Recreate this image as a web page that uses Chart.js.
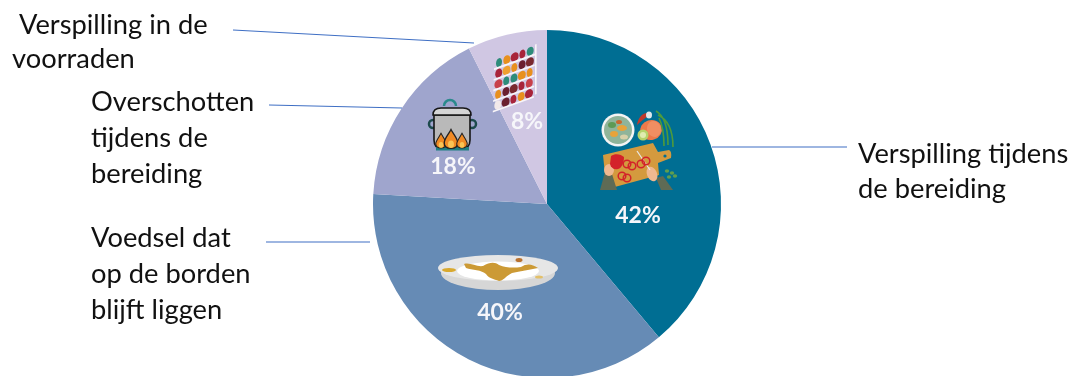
<!DOCTYPE html>
<html lang="nl">
<head>
<meta charset="utf-8">
<title>Voedselverspilling</title>
<script src="https://cdn.jsdelivr.net/npm/chart.js@4/dist/chart.umd.min.js"></script>
<style>
  html, body { margin: 0; padding: 0; background: #fff; overflow: hidden; }
  #wrap { position: relative; width: 1072px; height: 376px; overflow: hidden; }
  #box { position: absolute; left: 0; top: 0; width: 1072px; height: 378px; }
</style>
</head>
<body>
<div id="wrap"><div id="box"><canvas id="pie"></canvas></div></div>
<script>
const categories = [
    'Verspilling tijdens de bereiding',
    'Voedsel dat op de borden blijft liggen',
    'Overschotten tijdens de bereiding',
    'Verspilling in de voorraden'
];
const shares = [42, 40, 18, 8];
const sliceColors = ['#006e93', '#668bb5', '#9fa5cd', '#d0c7e3'];

// wrapped callouts: text lines, left edge of each line, first baseline
const calloutLines = [
    ['Verspilling tijdens', 'de bereiding'],
    ['Voedsel dat', 'op de borden', 'blijft liggen'],
    ['Overschotten', 'tijdens de', 'bereiding'],
    [' Verspilling in de', 'voorraden']
];
const calloutX = [858, 91, 91, 12];
const calloutY = [163, 247, 111, 34];
const calloutStep = [35, 36, 36, 34];
const leaders = [
    [712, 147, 847, 147],
    [266, 242, 370, 242],
    [269, 105, 402, 108],
    [233, 30, 474, 43]
];
// percent labels, offset from the pie centre
const percentDx = [91, -47, -94, -20];
const percentDy = [12, 109, -37, -82];

function fillPath(ctx, color, d) {
    ctx.fillStyle = color;
    ctx.fill(new Path2D(d));
}

function ellipse(ctx, color, x, y, rx, ry, rot) {
    ctx.fillStyle = color;
    ctx.beginPath();
    ctx.ellipse(x, y, rx, ry, rot || 0, 0, Math.PI * 2);
    ctx.fill();
}

function drawPlate(ctx) {
    ellipse(ctx, '#d6d6d6', 498, 273, 57, 17);
    ellipse(ctx, '#e6e6e6', 498, 268, 60, 13);
    ellipse(ctx, '#ffffff', 498, 271, 41, 9.5);
    fillPath(ctx, '#cc9a35', 'M464 264 C470 262 476 267 483 266 C490 262 495 262 499 265 C506 268 514 268 521 267 C527 263 532 264 538 268 C530 270 520 271 512 273 C506 276 503 281 499 281 C494 279 488 278 486 274 C482 270 472 270 466 268 Z');
    ellipse(ctx, '#b9722f', 519, 260, 3.5, 2);
    ellipse(ctx, '#d9a92f', 449, 270, 7, 2);
    ellipse(ctx, '#e3c06a', 539, 277, 4, 1.6);
}

function drawPot(ctx) {
    // handles and knob
    ctx.lineWidth = 2.5;
    ctx.strokeStyle = '#2a8a8c';
    ctx.beginPath(); ctx.arc(450, 106, 6, Math.PI, 0); ctx.stroke();
    ctx.strokeStyle = '#1c4a4c';
    ctx.beginPath(); ctx.arc(433, 124, 4, 0, Math.PI * 2); ctx.stroke();
    ctx.beginPath(); ctx.arc(472, 124, 4, 0, Math.PI * 2); ctx.stroke();
    // body
    ctx.lineWidth = 1.6;
    ctx.strokeStyle = '#161616';
    const body = new Path2D('M434 115 L470 115 L470 140 Q470 149 461 149 L443 149 Q434 149 434 140 Z');
    ctx.fillStyle = '#b9b9b9';
    ctx.fill(body);
    ctx.stroke(body);
    // lid
    const lid = new Path2D('M433 115 Q433 108 441 108 L463 108 Q471 108 471 115 Z');
    ctx.fillStyle = '#d5d5d5';
    ctx.fill(lid);
    ctx.stroke(lid);
    // burner and flames
    ctx.fillStyle = '#1f7f82';
    ctx.fillRect(436, 147, 33, 3.5);
    [[441, 1.05], [451, 1.35], [462, 1.05]].forEach(([x, s]) => {
        ctx.save();
        ctx.translate(x, 147);
        ctx.scale(s, s);
        const flame = new Path2D('M0 -13 C2 -9 5 -6 5 -3 C5 0 3 1 0 1 C-3 1 -5 0 -5 -3 C-5 -6 -2 -9 0 -13 Z');
        ctx.fillStyle = '#f08a24';
        ctx.fill(flame);
        ctx.strokeStyle = '#222';
        ctx.lineWidth = 1;
        ctx.stroke(flame);
        ellipse(ctx, '#f9c455', 0, -2, 2.2, 2.8);
        ctx.restore();
    });
}

function drawShelves(ctx) {
    // stack of slanted shelves holding coloured goods
    const rowGoods = [
        ['#2e8c7a', '#e8901e', '#a8243a', '#a8243a', '#2e8c7a'],
        ['#a8243a', '#f0a030', '#e8901e', '#6b2030', '#7a2a30'],
        ['#c8404a', '#2e8c7a', '#2e8c7a', '#e8901e', '#e8901e'],
        ['#e8901e', '#6b2030', '#7a2a30', '#a8243a', '#c8404a'],
        ['#f2e9ea', '#6b2030', '#a8243a', '#e8901e', '#a8243a']
    ];
    ctx.save();
    ctx.translate(495, 60);
    ctx.transform(1, -0.36, 0, 1, 0, 0);
    rowGoods.forEach((row, r) => {
        const y = r * 10.5;
        row.forEach((c, i) => {
            const w = 3 + (i + r) % 3 * 0.5;
            ellipse(ctx, c, 4 + i * 7.8 - r * 0.3, y + 4, w, 4.4);
        });
        ctx.fillStyle = '#f8f5f8';
        ctx.fillRect(-1 - r * 0.3, y + 8, 41, 1.8);
    });
    ctx.fillStyle = '#f8f5f8';
    ctx.fillRect(40, -1, 1.6, 50);
    ctx.restore();
}

function drawBoardScene(ctx) {
    // bowl
    ellipse(ctx, '#f4f4f4', 618, 130, 16.5, 16.5);
    ellipse(ctx, '#8fb49a', 618, 130, 14, 14);
    ellipse(ctx, '#e8a33a', 622, 128, 5, 3);
    ellipse(ctx, '#e8a33a', 614, 134, 4, 3);
    ellipse(ctx, '#5d9a55', 612, 125, 4, 3);
    ellipse(ctx, '#d8d0a8', 624, 137, 4, 2.5);
    ellipse(ctx, '#c9682f', 619, 122, 3, 2);
    // chili and garlic
    fillPath(ctx, '#c0392b', 'M647 113 C642 113 638 118 637 125 C640 122 644 119 648 116 Z');
    ellipse(ctx, '#dfe7ea', 649, 115, 3, 3.6);
    // carrot and cucumber
    ellipse(ctx, '#ec7a4a', 651, 130, 11, 10, -0.3);
    ellipse(ctx, '#f08e62', 654, 129, 7, 8, -0.3);
    ellipse(ctx, '#b6d36a', 643, 135, 5.5, 5.5);
    ellipse(ctx, '#e0ecb0', 643, 135, 3, 3);
    // scallions
    ctx.strokeStyle = '#4e9a3c';
    ctx.lineWidth = 1.6;
    ctx.beginPath();
    ctx.moveTo(656, 111); ctx.quadraticCurveTo(668, 118, 668, 145);
    ctx.moveTo(658, 115); ctx.quadraticCurveTo(673, 122, 673, 147);
    ctx.moveTo(659, 118); ctx.quadraticCurveTo(664, 128, 664, 146);
    ctx.stroke();
    // cutting board
    fillPath(ctx, '#d49a3e', 'M603 155 L653 143 L658 152 L669 150 Q672 151 671 158 L658 163 L659 175 L611 188 Q607 188 606 184 Z');
    ellipse(ctx, '#006e93', 665, 156, 1.6, 1.6);
    // arms and hands
    fillPath(ctx, '#5f6b55', 'M600 190 L605 172 L612 174 L617 190 Z');
    fillPath(ctx, '#5f6b55', 'M656 178 L663 176 L673 190 L661 190 Z');
    ellipse(ctx, '#f0b890', 609, 170, 5, 6);
    ellipse(ctx, '#f0b890', 652, 174, 5, 7.5, -0.4);
    // knife
    ctx.strokeStyle = '#e8e8e8';
    ctx.lineWidth = 1.2;
    ctx.beginPath(); ctx.moveTo(637, 151); ctx.lineTo(650, 170); ctx.stroke();
    // pepper
    fillPath(ctx, '#d3222a', 'M611 156 C615 153 621 154 624 157 C624 162 622 168 618 169 C614 170 611 168 610 164 Z');
    // pepper rings
    ctx.strokeStyle = '#d3222a';
    ctx.lineWidth = 1.5;
    [[627, 164], [632, 166], [622, 176], [627, 178], [641, 164], [646, 161]].forEach(([x, y]) => {
        ctx.beginPath(); ctx.arc(x, y, 3.8, 0, Math.PI * 2); ctx.stroke();
    });
    // parsley
    [[667, 171], [672, 173], [669, 177], [675, 176]].forEach(([x, y]) => ellipse(ctx, '#5f9e4e', x, y, 2.2, 1.7));
}

const overlayPlugin = {
    id: 'overlay',
    afterDatasetsDraw(chart) {
        const ctx = chart.ctx;
        const arcs = chart.getDatasetMeta(0).data;
        ctx.save();

        ctx.strokeStyle = '#3f6fc4';
        ctx.lineWidth = 1.2;
        leaders.forEach(([x1, y1, x2, y2]) => {
            ctx.beginPath();
            ctx.moveTo(x1, y1);
            ctx.lineTo(x2, y2);
            ctx.stroke();
        });

        drawBoardScene(ctx);
        drawPlate(ctx);
        drawPot(ctx);
        drawShelves(ctx);

        ctx.textBaseline = 'alphabetic';
        ctx.textAlign = 'left';
        ctx.font = '27.3px Lato, "Noto Sans", sans-serif';
        ctx.fillStyle = '#111';
        calloutLines.forEach((lines, i) => {
            lines.forEach((line, j) => {
                ctx.fillText(line, calloutX[i], calloutY[i] + j * calloutStep[i]);
            });
        });

        ctx.textAlign = 'center';
        ctx.textBaseline = 'middle';
        ctx.font = 'bold 23px Lato, "Noto Sans", sans-serif';
        ctx.fillStyle = '#f6f6fa';
        shares.forEach((v, i) => {
            ctx.fillText(v + '%', arcs[i].x + percentDx[i], arcs[i].y + percentDy[i]);
        });
        ctx.restore();
    }
};

new Chart(document.getElementById('pie'), {
    type: 'pie',
    data: {
        labels: categories,
        datasets: [{
            data: shares,
            backgroundColor: sliceColors,
            borderWidth: 0,
            hoverOffset: 0
        }]
    },
    options: {
        responsive: true,
        maintainAspectRatio: false,
        animation: false,
        layout: { padding: { left: 22, right: 0, top: 30, bottom: 0 } },
        plugins: {
            legend: { display: false },
            tooltip: { enabled: false }
        }
    },
    plugins: [overlayPlugin]
});
</script>
</body>
</html>
